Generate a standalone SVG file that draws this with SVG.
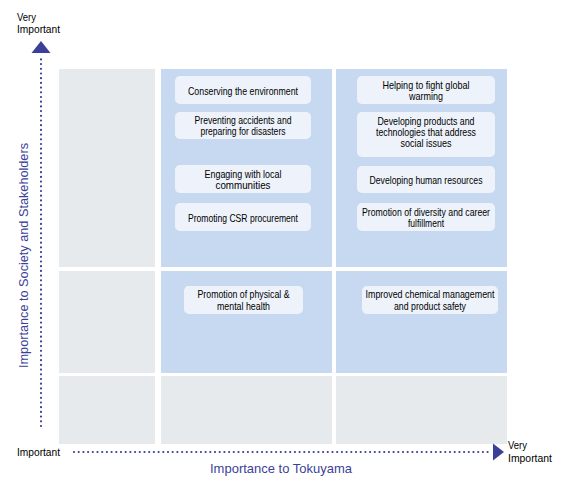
<svg xmlns="http://www.w3.org/2000/svg" width="562" height="484" viewBox="0 0 562 484">
<style>
.g{fill:#e7eaed}
.b{fill:#c7d9f0}
.box{fill:#eef3fb}
.t{font-family:"Liberation Sans",Arial,sans-serif;font-size:11.3px;fill:#000;text-anchor:middle}
.lbl{font-family:"Liberation Sans",Arial,sans-serif;font-size:11px;fill:#000}
.ttl{font-family:"Liberation Sans",Arial,sans-serif;font-size:13.5px;fill:#3b3f98}
.dot{stroke:#3b3f98;stroke-width:2.2;stroke-linecap:round;stroke-dasharray:0 4.7;fill:none}
.ah{fill:#3b3f98}
</style>
<rect width="562" height="484" fill="#fff"/>
<g id="grid">
<rect class="g" x="59" y="69" width="96" height="198"/>
<rect class="b" x="161" y="69" width="171" height="198"/>
<rect class="b" x="336" y="69" width="171" height="198"/>
<rect class="g" x="59" y="271" width="96" height="102"/>
<rect class="b" x="161" y="271" width="171" height="102"/>
<rect class="b" x="336" y="271" width="171" height="102"/>
<rect class="g" x="59" y="376" width="96" height="68"/>
<rect class="g" x="161" y="376" width="171" height="68"/>
<rect class="g" x="336" y="376" width="171" height="68"/>
</g>
<g id="n-env">
<rect class="box" x="175" y="76" width="136" height="28" rx="5"/>
<text class="t" x="243" y="95" textLength="110" lengthAdjust="spacingAndGlyphs">Conserving the environment</text>
</g>
<g id="n-accidents">
<rect class="box" x="175" y="112" width="136" height="27" rx="5"/>
<text class="t" x="243" y="124.2" textLength="97" lengthAdjust="spacingAndGlyphs">Preventing accidents and</text>
<text class="t" x="243" y="135" textLength="85" lengthAdjust="spacingAndGlyphs">preparing for disasters</text>
</g>
<g id="n-communities">
<rect class="box" x="175" y="165" width="136" height="28" rx="5"/>
<text class="t" x="243" y="177.5" textLength="77" lengthAdjust="spacingAndGlyphs">Engaging with local</text>
<text class="t" x="243" y="188.5" textLength="55" lengthAdjust="spacingAndGlyphs">communities</text>
</g>
<g id="n-csr">
<rect class="box" x="175" y="203" width="136" height="28" rx="5"/>
<text class="t" x="243" y="222" textLength="110" lengthAdjust="spacingAndGlyphs">Promoting CSR procurement</text>
</g>
<g id="n-warming">
<rect class="box" x="357" y="76" width="138" height="28" rx="5"/>
<text class="t" x="426" y="88.8" textLength="87" lengthAdjust="spacingAndGlyphs">Helping to fight global</text>
<text class="t" x="426" y="99.8" textLength="34" lengthAdjust="spacingAndGlyphs">warming</text>
</g>
<g id="n-products">
<rect class="box" x="357" y="112" width="138" height="45" rx="5"/>
<text class="t" x="426" y="124.5" textLength="97" lengthAdjust="spacingAndGlyphs">Developing products and</text>
<text class="t" x="426" y="135.5" textLength="100" lengthAdjust="spacingAndGlyphs">technologies that address</text>
<text class="t" x="426" y="146.5" textLength="51" lengthAdjust="spacingAndGlyphs">social issues</text>
</g>
<g id="n-human">
<rect class="box" x="357" y="166" width="138" height="27" rx="5"/>
<text class="t" x="426" y="184.3" textLength="113" lengthAdjust="spacingAndGlyphs">Developing human resources</text>
</g>
<g id="n-diversity">
<rect class="box" x="357" y="203" width="138" height="28" rx="5"/>
<text class="t" x="426" y="215.5" textLength="128" lengthAdjust="spacingAndGlyphs">Promotion of diversity and career</text>
<text class="t" x="426" y="226.5" textLength="36" lengthAdjust="spacingAndGlyphs">fulfillment</text>
</g>
<g id="n-health">
<rect class="box" x="184" y="286" width="119" height="28" rx="5"/>
<text class="t" x="243.5" y="298" textLength="92" lengthAdjust="spacingAndGlyphs">Promotion of physical &amp;</text>
<text class="t" x="243.5" y="309.5" textLength="53" lengthAdjust="spacingAndGlyphs">mental health</text>
</g>
<g id="n-chemical">
<rect class="box" x="362" y="286" width="136" height="28" rx="5"/>
<text class="t" x="430" y="298" textLength="129" lengthAdjust="spacingAndGlyphs">Improved chemical management</text>
<text class="t" x="430" y="309.5" textLength="72" lengthAdjust="spacingAndGlyphs">and product safety</text>
</g>
<g id="connectors">
<line class="dot" x1="41" y1="426" x2="41" y2="57"/>
<polygon class="ah" points="41,41 31.5,53 50.5,53"/>
<line class="dot" x1="74" y1="452" x2="490" y2="452"/>
<polygon class="ah" points="493,443.5 504,452 493,460.5"/>
</g>
<g id="labels">
<text class="lbl" x="17" y="20.5" textLength="19" lengthAdjust="spacingAndGlyphs">Very</text>
<text class="lbl" x="17" y="32.8" textLength="43" lengthAdjust="spacingAndGlyphs">Important</text>
<text class="lbl" x="17" y="456" textLength="43" lengthAdjust="spacingAndGlyphs">Important</text>
<text class="lbl" x="508" y="449" textLength="19" lengthAdjust="spacingAndGlyphs">Very</text>
<text class="lbl" x="508" y="461.5" textLength="44" lengthAdjust="spacingAndGlyphs">Important</text>
<text class="ttl" x="210" y="473" textLength="142" lengthAdjust="spacingAndGlyphs">Importance to Tokuyama</text>
<text class="ttl" transform="translate(27.5,368) rotate(-90)" x="0" y="0" textLength="225" lengthAdjust="spacingAndGlyphs">Importance to Society and Stakeholders</text>
</g>
</svg>
